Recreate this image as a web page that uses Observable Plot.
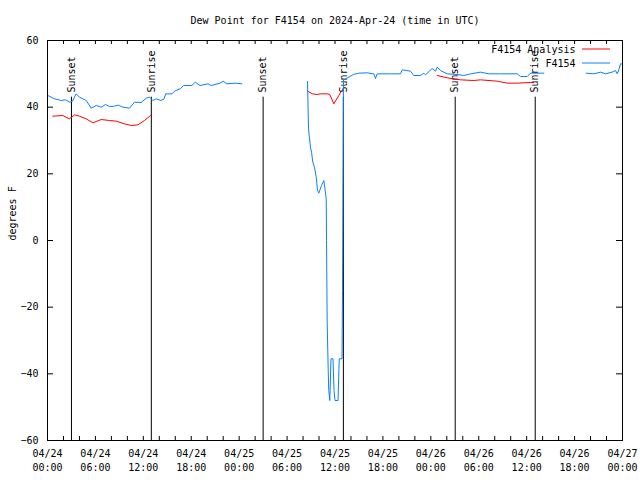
<!DOCTYPE html>
<html><head><meta charset="utf-8">
<script src="https://cdn.jsdelivr.net/npm/d3@7"></script>
<script src="https://cdn.jsdelivr.net/npm/@observablehq/plot@0.6"></script>
<style>body{margin:0;background:#fff}</style>
</head><body><div id="chart"></div>
<script>
const titleText = "Dew Point for F4154 on 2024-Apr-24 (time in UTC)";
const yLabel = "degrees F";
const seriesNames = ["F4154 Analysis", "F4154"];
const seriesColors = ["#ff0000", "#0a80ff"];
const startUTC = Date.UTC(2024, 3, 24);
const endHours = 72;
const yTicks = [-60, -40, -20, 0, 20, 40, 60];

// hours after 2024-04-24 00:00 UTC ; NaN = gap
const blueHours = [0.04,0.88,1.72,2.25,2.75,3.13,3.59,4.0,4.85,5.47,6.1,6.72,7.26,7.76,8.39,8.89,9.43,10.27,10.9,11.73,12.36,12.77,13.19,13.6,14.2,14.6,14.8,15.6,15.9,16.6,17.03,18.07,18.5,19.1,20.1,20.5,21.6,22.0,22.45,23.5,24.33,
  28,
  32.56,32.68,32.93,33.06,33.22,33.43,33.65,33.81,33.97,34.31,34.6,34.72,34.9,34.94,35.02,35.15,35.22,35.35,35.5,35.75,35.88,36.0,36.38,36.53,36.75,36.88,36.94,37.06,37.73,38.3,38.98,40.03,40.86,41.07,41.28,42.95,44.2,44.42,45.45,45.87,46.7,47.12,47.33,48.17,48.59,48.8,49.21,50.05,51.3,52.13,52.97,54.22,55.26,56.72,58.82,59.23,60.07,60.48,62.15,
  65,
  67.45,68.41,69.25,69.87,70.71,71.12,71.34,71.54,71.75,71.96];
const blueValues = [43.5,42.5,42,42.2,41.5,41.8,44,43,42,39.7,40.5,40,40.8,40.2,40.3,40.6,40,39.7,41.5,41.4,42.7,43,42,42.5,42,42.5,44,44,44.8,45.5,46.5,46.5,47.5,46.5,47,46.5,47.2,47.8,47,47.2,47,
  NaN,
  47.7,33.5,28,26.5,23.5,22,19,15,14.2,16.5,18,16,12.5,0,-24.5,-39,-45,-48,-35.5,-35.5,-45,-48,-48,-35.5,-35.5,-35.5,-15,48.2,49,49.8,50.2,50.3,50,48.6,50,50,50,51.2,50.8,49.5,49.5,50.2,49.7,51.6,50.8,52,51,50,49.8,49.5,50,50.5,50,50,50,49.2,49.2,50.2,50.2,
  NaN,
  50.2,50,50.5,50,50.5,51,50,51.2,53,53];

const redHours = [0.66,1.3,1.91,2.75,3.38,4.0,4.85,5.68,6.72,7.76,8.6,9.64,10.48,11.31,12.15,12.9,
  20,
  32.59,33.15,33.77,34.18,35.02,35.35,35.85,36.48,36.78,37.03,
  43,
  48.8,50.05,51.71,53.38,54.22,56.31,57.56,58.82,60.48,60.89];
const redValues = [37.3,37.4,37.5,36.5,37.7,37.3,36.5,35.3,36.3,36.0,35.8,35.0,34.5,34.7,36.0,37.5,
  NaN,
  44.8,44,43.8,44,44,43.8,41,43.5,44.8,45,
  NaN,
  49.5,48.8,48.2,48,48.2,47.8,47.2,47.2,47.4,47.4];

const sunHours = [3.0, 13.0, 27.0, 37.05, 51.05, 61.07];
const sunLabels = ["Sunset", "Sunrise", "Sunset", "Sunrise", "Sunset", "Sunrise"];

const toDate = h => new Date(startUTC + h * 3600e3);
const blue = blueHours.map((h, i) => ({t: toDate(h), v: blueValues[i]}));
const red = redHours.map((h, i) => ({t: toDate(h), v: redValues[i]}));
const sun = sunHours.map((h, i) => ({t: toDate(h), label: sunLabels[i]}));
const xMinor = d3.utcHour.every(2).range(toDate(0), toDate(endHours + 0.01));

const font = "DejaVu Sans Mono";
const fmtD = d3.utcFormat("%m/%d"), fmtT = d3.utcFormat("%H:%M");
const W = 640, H = 480, mL = 47, mR = 18, mT = 40, mB = 40;
const fw = W - mL - mR, fh = H - mT - mB;

const plot = Plot.plot({
  width: W, height: H,
  marginLeft: mL, marginRight: mR, marginTop: mT, marginBottom: mB,
  style: {fontFamily: font, fontSize: "10px", background: "white", color: "black"},
  x: {type: "utc", domain: [toDate(0), toDate(endHours)]},
  y: {domain: [-60, 60]},
  marks: [
    Plot.ruleX(sun, {x: "t", y1: 43, y2: -60, stroke: "black", strokeWidth: 1}),
    Plot.text(sun, {x: "t", y: 44.4, text: "label", rotate: -90, textAnchor: "start", fill: "black", fontFamily: font, fontSize: 10}),
    Plot.line(red, {x: "t", y: "v", stroke: seriesColors[0], strokeWidth: 1}),
    Plot.line(blue, {x: "t", y: "v", stroke: seriesColors[1], strokeWidth: 1}),
    Plot.axisX({anchor: "bottom", ticks: d3.utcHour.every(6), tickSize: 0, tickPadding: 7, lineHeight: 1.4,
      tickFormat: d => fmtD(d) + "\n" + fmtT(d), label: null}),
    Plot.axisY({anchor: "left", ticks: yTicks, tickSize: 0, tickPadding: 9, label: null}),
    // inward tick marks
    Plot.ruleX(xMinor, {stroke: "black", insetTop: fh - 4}),
    Plot.ruleX(xMinor, {stroke: "black", insetBottom: fh - 4}),
    Plot.ruleY(yTicks, {stroke: "black", insetRight: fw - 6}),
    Plot.ruleY(yTicks, {stroke: "black", insetLeft: fw - 6}),
    Plot.frame({stroke: "black"}),
    Plot.text([titleText], {frameAnchor: "top", dy: -20, lineAnchor: "middle", fontSize: 10, fill: "black"}),
    Plot.text([yLabel], {frameAnchor: "left", dx: -35, rotate: -90, fontSize: 10, fill: "black"}),
    Plot.text([seriesNames[0]], {frameAnchor: "top-right", dx: -47, dy: 9, lineAnchor: "middle", textAnchor: "end", fontSize: 10, fill: "black"}),
    Plot.text([seriesNames[1]], {frameAnchor: "top-right", dx: -47, dy: 23, lineAnchor: "middle", textAnchor: "end", fontSize: 10, fill: "black"})
  ]
});
const svg = d3.select(plot);
[[49, seriesColors[0]], [63, seriesColors[1]]].forEach(([yy, c]) => {
  svg.append("line").attr("x1", 582).attr("x2", 610).attr("y1", yy).attr("y2", yy)
    .attr("stroke", c).attr("stroke-width", 1);
});
document.getElementById("chart").appendChild(plot);
</script>
</body></html>
